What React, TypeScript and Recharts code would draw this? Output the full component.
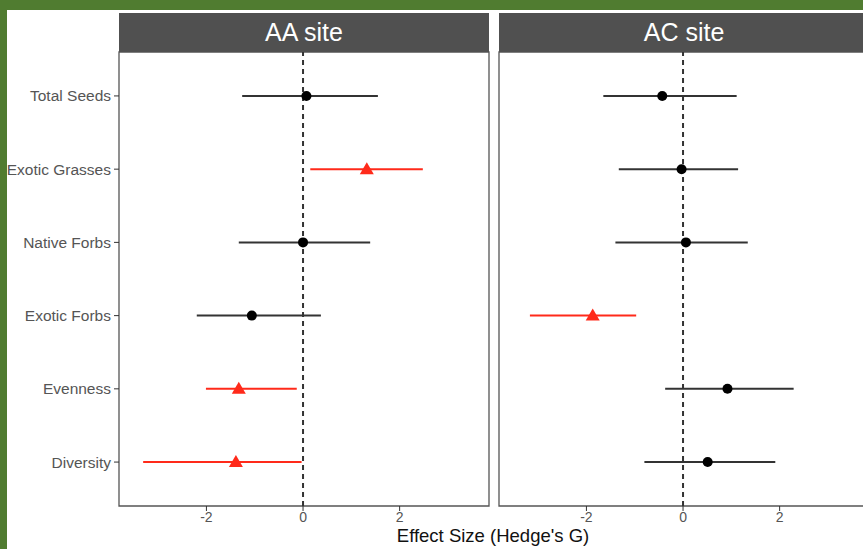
import {
  ScatterChart,
  Scatter,
  XAxis,
  YAxis,
  ErrorBar,
  ReferenceLine,
  ReferenceArea,
} from "recharts";

const categories = [
  "Total Seeds",
  "Exotic Grasses",
  "Native Forbs",
  "Exotic Forbs",
  "Evenness",
  "Diversity",
];

const aaMean = [0.07, 1.32, 0, -1.06, -1.33, -1.39];
const aaLow = [-1.26, 0.15, -1.33, -2.2, -2.01, -3.31];
const aaHigh = [1.55, 2.48, 1.39, 0.37, -0.13, -0.03];
const aaSig = [false, true, false, false, true, true];

const acMean = [-0.43, -0.03, 0.06, -1.87, 0.92, 0.51];
const acLow = [-1.65, -1.33, -1.4, -3.17, -0.37, -0.8];
const acHigh = [1.11, 1.14, 1.34, -0.97, 2.29, 1.91];
const acSig = [false, false, false, true, false, false];

const xTicks = [-2, 0, 2];
const xDomain: [number, number] = [-3.81, 3.85];
const yDomain: [number, number] = [-0.6, 5.6];

const font = "'Liberation Sans', Arial, Helvetica, sans-serif";
const red = "#ff2a1a";

function buildRows(mean: number[], low: number[], high: number[], sig: boolean[]) {
  return categories.map((name, i) => ({
    name,
    y: i,
    x: mean[i],
    err: [mean[i] - low[i], high[i] - mean[i]],
    sig: sig[i],
  }));
}

const Dot = (p: any) => <circle cx={p.cx} cy={p.cy} r={5} fill="#000" />;
const Tri = (p: any) => (
  <polygon
    points={`${p.cx},${p.cy - 7} ${p.cx - 7},${p.cy + 5} ${p.cx + 7},${p.cy + 5}`}
    fill={red}
  />
);

function Panel({
  rows,
  showY,
  width,
  marginLeft,
}: {
  rows: ReturnType<typeof buildRows>;
  showY: boolean;
  width: number;
  marginLeft: number;
}) {
  const black = rows.filter((r) => !r.sig);
  const sig = rows.filter((r) => r.sig);
  return (
    <ScatterChart
      width={width}
      height={549}
      margin={{ top: 52, right: 3, bottom: 0, left: marginLeft }}
    >
      <XAxis
        type="number"
        dataKey="x"
        domain={xDomain}
        ticks={xTicks}
        allowDataOverflow
        axisLine={false}
        tickLine={{ stroke: "#333" }}
        tickSize={5}
        tickMargin={1}
        height={43}
        tick={{ fill: "#555", fontSize: 14, fontFamily: font }}
      />
      <YAxis
        type="number"
        dataKey="y"
        domain={yDomain}
        reversed
        ticks={[0, 1, 2, 3, 4, 5]}
        tickFormatter={(v: number) => categories[v]}
        hide={!showY}
        width={119}
        axisLine={false}
        tickLine={{ stroke: "#333" }}
        tickSize={5}
        tickMargin={3}
        tick={{ fill: "#555", fontSize: 15.5, fontFamily: font }}
      />
      <ReferenceArea
        x1={xDomain[0]}
        x2={xDomain[1]}
        y1={yDomain[0]}
        y2={yDomain[1]}
        fill="none"
        fillOpacity={0}
        stroke="#555"
        strokeWidth={1.3}
      />
      <ReferenceLine x={0} stroke="#333" strokeWidth={2} strokeDasharray="5 4" />
      <Scatter data={black} shape={Dot} isAnimationActive={false}>
        <ErrorBar
          dataKey="err"
          direction="x"
          width={0}
          stroke="#333"
          strokeWidth={2}
          isAnimationActive={false}
        />
      </Scatter>
      <Scatter data={sig} shape={Tri} isAnimationActive={false}>
        <ErrorBar
          dataKey="err"
          direction="x"
          width={0}
          stroke={red}
          strokeWidth={2}
          isAnimationActive={false}
        />
      </Scatter>
    </ScatterChart>
  );
}

const stripStyle: React.CSSProperties = {
  position: "absolute",
  top: 13,
  width: 370,
  height: 39,
  background: "#505050",
  color: "#fff",
  fontSize: 25,
  fontFamily: font,
  display: "flex",
  alignItems: "center",
  justifyContent: "center",
};

export default function App() {
  const aaRows = buildRows(aaMean, aaLow, aaHigh, aaSig);
  const acRows = buildRows(acMean, acLow, acHigh, acSig);
  return (
    <div
      style={{
        position: "absolute",
        left: 0,
        top: 0,
        width: 863,
        height: 549,
        overflow: "hidden",
        background: "#507c30",
        fontFamily: font,
      }}
    >
      <div
        style={{
          position: "absolute",
          left: 7,
          top: 10,
          width: 856,
          height: 539,
          background: "#fff",
        }}
      />
      <div style={{ position: "absolute", left: 0, top: 0 }}>
        <Panel rows={aaRows} showY width={492} marginLeft={0} />
      </div>
      <div style={{ position: "absolute", left: 496, top: 0 }}>
        <Panel rows={acRows} showY={false} width={376} marginLeft={3} />
      </div>
      <div style={{ ...stripStyle, left: 119 }}>AA site</div>
      <div style={{ ...stripStyle, left: 499 }}>AC site</div>
      <div
        style={{
          position: "absolute",
          left: 0,
          width: 986,
          top: 527,
          lineHeight: 1,
          textAlign: "center",
          fontSize: 18.5,
          color: "#111",
        }}
      >
        Effect Size (Hedge's G)
      </div>
    </div>
  );
}
